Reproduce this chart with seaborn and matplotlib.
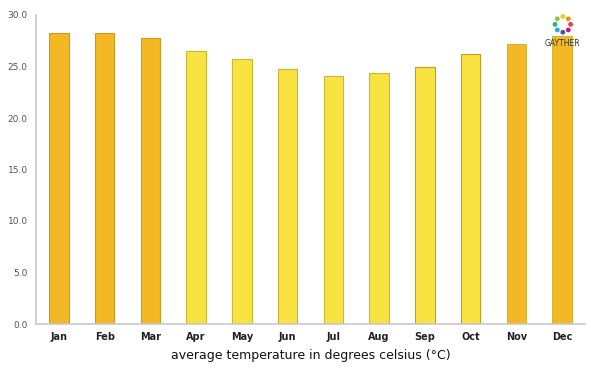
import matplotlib.pyplot as plt
import seaborn as sns
import pandas as pd
import numpy as np
from matplotlib.ticker import FormatStrFormatter

# Monthly average temperature (°C)
months = ['Jan', 'Feb', 'Mar', 'Apr', 'May', 'Jun',
          'Jul', 'Aug', 'Sep', 'Oct', 'Nov', 'Dec']
temps = [28.3, 28.3, 27.8, 26.5, 25.7, 24.8, 24.1, 24.4, 25.0, 26.2, 27.2, 28.0]
season = ['warm', 'warm', 'warm', 'mild', 'mild', 'mild',
          'mild', 'mild', 'mild', 'mild', 'warm', 'warm']

df = pd.DataFrame({'month': months, 'temp': temps, 'season': season})

sns.set_style('white')
plt.rcParams['font.family'] = ['DejaVu Sans']

fig = plt.figure(figsize=(6, 3.75), dpi=100)
ax = fig.add_axes([0.06, 0.136, 0.915, 0.824])

palette = {'warm': '#F4B824', 'mild': '#F9E340'}
sns.barplot(data=df, x='month', y='temp', hue='season', palette=palette,
            width=0.43, dodge=False, legend=False, ax=ax, saturation=1)

edges = {'warm': '#C99A1E', 'mild': '#C9B63A'}
for bar, s in zip(ax.patches, season):
    bar.set_edgecolor(edges[s])
    bar.set_linewidth(0.8)

ax.set_ylim(0, 30)
ax.set_yticks([0, 5, 10, 15, 20, 25, 30])
ax.yaxis.set_major_formatter(FormatStrFormatter('%.1f'))
ax.tick_params(axis='y', labelsize=6.5, labelcolor='#555555', length=0, pad=6)
ax.tick_params(axis='x', labelsize=7, labelcolor='#222222', length=0, pad=6)
for lbl in ax.get_xticklabels():
    lbl.set_fontweight('bold')

ax.set_ylabel('')
ax.set_xlabel('average temperature in degrees celsius (°C)', fontsize=9,
              color='#111111', labelpad=5)
ax.set_xlim(-0.5, 11.5)

sns.despine(ax=ax)
for side in ['left', 'bottom']:
    ax.spines[side].set_color('#c8c8c8')
    ax.spines[side].set_linewidth(1.2)

# logo: ring of coloured dots with the name below
logo_colors = ['#e8433b', '#f08a24', '#f6c521', '#8cc63f', '#2bb673',
               '#27a9e1', '#3b5ba9', '#c2198d']
ang = np.linspace(0, 2 * np.pi, len(logo_colors), endpoint=False)
ax.scatter(0.938 + 0.013 * np.cos(ang), 0.935 + 0.021 * np.sin(ang),
           s=6, c=logo_colors, transform=fig.transFigure, clip_on=False,
           zorder=5)
fig.text(0.938, 0.883, 'GAYTHER', fontsize=5.5, color='#333333',
         ha='center', va='center')

fig.savefig('out.png', dpi=100)
